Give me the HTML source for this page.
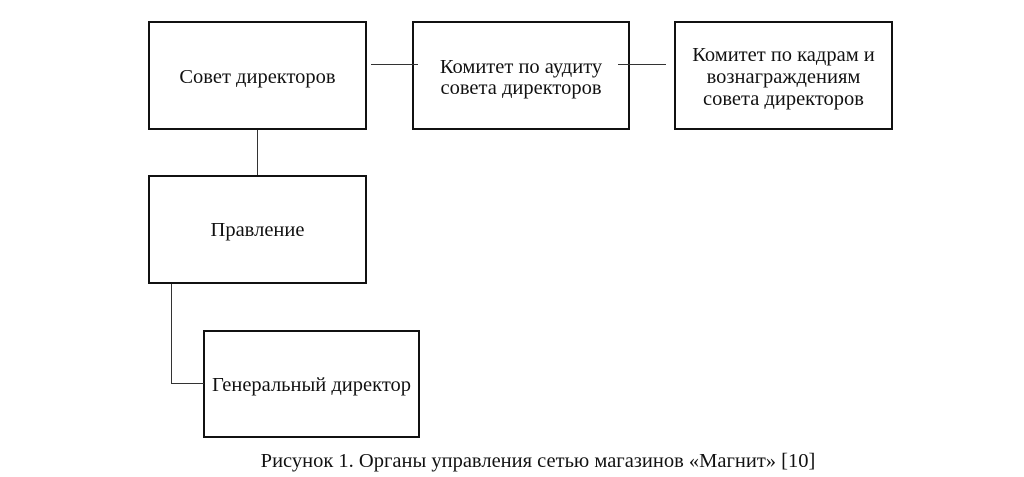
<!DOCTYPE html>
<html><head><meta charset="utf-8"><style>
body{margin:0;background:#fff;width:1024px;height:477px;position:relative;overflow:hidden;font-family:"Liberation Serif",serif;color:#111}
.b{position:absolute;border:2px solid #111;box-sizing:border-box;display:flex;align-items:center;justify-content:center;text-align:center;font-size:20.5px;line-height:21px}
.l{position:absolute;background:#333}
</style></head><body>
<div class="b" style="left:148px;top:21px;width:219px;height:109px;padding-top:4px">Совет директоров</div>
<div class="b" style="left:412px;top:21px;width:218px;height:109px;padding-top:4px">Комитет по аудиту<br>совета директоров</div>
<div class="b" style="left:674px;top:21px;width:219px;height:109px;line-height:22px;padding-top:3px">Комитет по кадрам и<br>вознаграждениям<br>совета директоров</div>
<div class="b" style="left:148px;top:175px;width:219px;height:109px;padding-top:2px">Правление</div>
<div class="b" style="left:203px;top:330px;width:217px;height:108px;padding-top:2px">Генеральный директор</div>
<div class="l" style="left:371px;top:64px;width:47px;height:1px"></div>
<div class="l" style="left:618px;top:64px;width:48px;height:1px"></div>
<div class="l" style="left:257px;top:130px;width:1px;height:45px"></div>
<div class="l" style="left:171px;top:284px;width:1px;height:100px"></div>
<div class="l" style="left:171px;top:383px;width:33px;height:1px"></div>
<div style="position:absolute;left:0;width:1076px;top:449px;text-align:center;font-size:20.5px;line-height:24px">Рисунок 1. Органы управления сетью магазинов «Магнит» [10]</div>
</body></html>
